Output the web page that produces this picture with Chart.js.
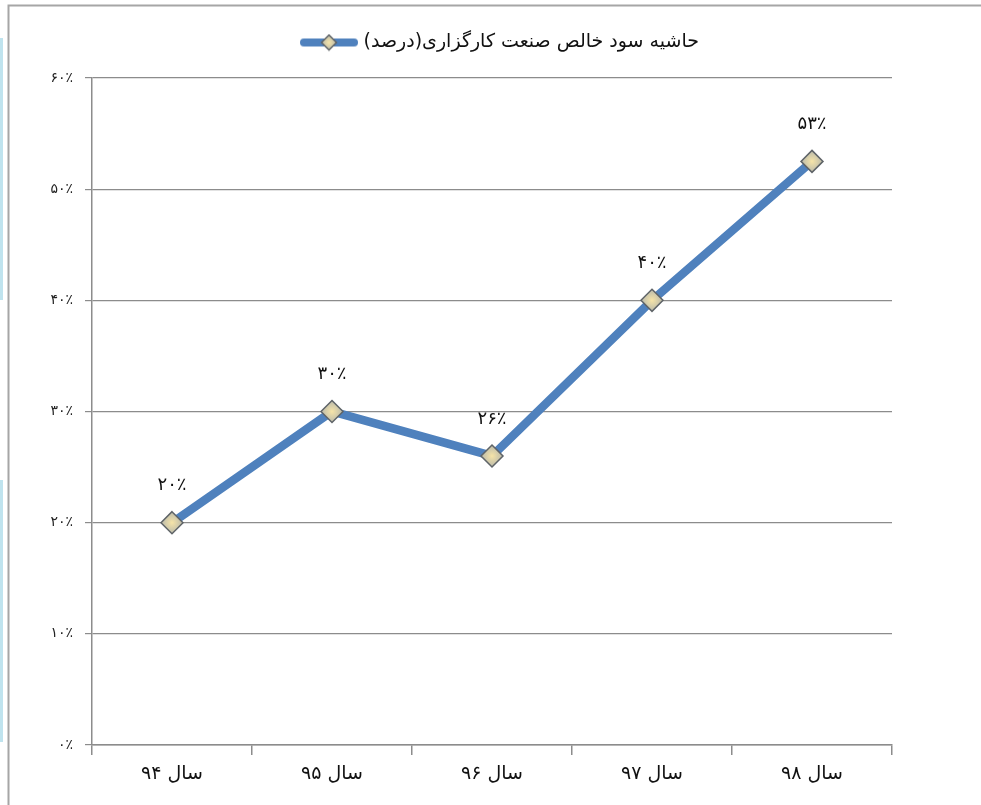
<!DOCTYPE html>
<html>
<head>
<meta charset="utf-8">
<script src="https://cdn.jsdelivr.net/npm/chart.js@4/dist/chart.umd.min.js"></script>
<style>
  html, body { margin: 0; padding: 0; background: #fff; }
  #c { display: block; }
</style>
</head>
<body>
<canvas id="c" width="981" height="805"></canvas>
<script>
const years = ["سال ۹۴", "سال ۹۵", "سال ۹۶", "سال ۹۷", "سال ۹۸"];
const margin = [20, 30, 26, 40, 52.5];
const seriesName = "حاشیه سود خالص صنعت کارگزاری(درصد)";
const yTicks = [0, 10, 20, 30, 40, 50, 60];

const FONT = "DejaVu Sans";
const BLUE = "#4f81bd";

// latin digits -> persian digits
const fa = (n) => String(Math.round(n)).replace(/\d/g, (d) => "۰۱۲۳۴۵۶۷۸۹"[d]);

function diamond(ctx, x, y, r) {
  const g = ctx.createRadialGradient(x, y, 0, x, y, r);
  g.addColorStop(0, "#f6e4a8");
  g.addColorStop(1, "#b9b9ab");
  ctx.beginPath();
  ctx.moveTo(x, y - r); ctx.lineTo(x + r, y); ctx.lineTo(x, y + r); ctx.lineTo(x - r, y);
  ctx.closePath();
  ctx.fillStyle = g; ctx.fill();
  ctx.strokeStyle = "#5f6468"; ctx.lineWidth = 1.5; ctx.stroke();
}

// legend sample: thick line with a diamond in the middle
const sample = document.createElement("canvas");
sample.width = 58; sample.height = 18;
(() => {
  const s = sample.getContext("2d");
  s.strokeStyle = BLUE; s.lineWidth = 8; s.lineCap = "round";
  s.beginPath(); s.moveTo(4, 9); s.lineTo(54, 9); s.stroke();
  diamond(s, 29, 9, 7.5);
})();

const frame = {
  id: "frame",
  afterLayout(chart) {
    // place the legend like the original (a bit right of centre, near the top)
    const L = chart.legend;
    L.left = 290; L.top -= 16; L.bottom -= 16;
  },
  beforeDraw(chart) {
    const ctx = chart.ctx;
    ctx.save();
    ctx.fillStyle = "#bfe3ee";
    ctx.fillRect(0, 38, 3, 262);
    ctx.fillRect(0, 480, 3, 262);
    ctx.strokeStyle = "#a6a6a6"; ctx.lineWidth = 2;
    ctx.beginPath();
    ctx.moveTo(8.5, 805); ctx.lineTo(8.5, 5.5); ctx.lineTo(981, 5.5);
    ctx.stroke();
    ctx.restore();
  },
  afterDatasetsDraw(chart) {
    const ctx = chart.ctx;
    const meta = chart.getDatasetMeta(0);
    ctx.save();
    meta.data.forEach((p) => diamond(ctx, p.x, p.y, 11));
    ctx.fillStyle = "#111";
    ctx.font = "18px '" + FONT + "'";
    ctx.textAlign = "center";
    ctx.textBaseline = "middle";
    meta.data.forEach((p, i) => {
      ctx.fillText(fa(margin[i]) + "٪", p.x, p.y - 37);
    });
    ctx.restore();
  }
};

new Chart(document.getElementById("c"), {
  type: "line",
  data: {
    labels: years,
    datasets: [{
      label: seriesName,
      data: margin,
      borderColor: BLUE,
      borderWidth: 8.5,
      tension: 0,
      pointRadius: 0,
      pointStyle: sample
    }]
  },
  options: {
    responsive: false,
    animation: false,
    layout: { padding: { left: 0, right: 89, top: 35, bottom: 0 } },
    plugins: {
      tooltip: { enabled: false },
      legend: {
        position: "top",
        align: "start",
        labels: {
          usePointStyle: true,
          pointStyleWidth: 50,
          color: "#111",
          font: { family: FONT, size: 19 },
          padding: 14,
          generateLabels: (chart) =>
            Chart.defaults.plugins.legend.labels.generateLabels(chart)
              .map((l) => ({ ...l, text: "\u200F" + l.text + "\u200F" }))
        }
      }
    },
    scales: {
      x: {
        offset: true,
        border: { color: "#8c8c8c", width: 1.5 },
        grid: { offset: true, drawOnChartArea: false, drawTicks: true, tickLength: 10, color: "#8c8c8c", lineWidth: 1.5 },
        ticks: { color: "#111", font: { family: FONT, size: 19 }, padding: 8, maxRotation: 0 },
        afterFit: (s) => { s.height = 60; }
      },
      y: {
        min: 0, max: 60,
        afterBuildTicks: (s) => { s.ticks = yTicks.map((v) => ({ value: v })); },
        border: { color: "#8c8c8c", width: 1.5 },
        grid: { color: "#8c8c8c", lineWidth: 1.2, tickLength: 7 },
        ticks: {
          color: "#222",
          font: { family: FONT, size: 14 },
          padding: 12,
          callback: (v) => fa(v) + "٪"
        },
        afterFit: (s) => { s.width = 92; }
      }
    }
  },
  plugins: [frame]
});
</script>
</body>
</html>
